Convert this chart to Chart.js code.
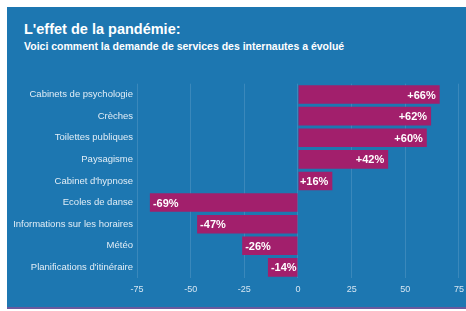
<!DOCTYPE html>
<html>
<head>
<meta charset="utf-8">
<script src="https://cdn.jsdelivr.net/npm/chart.js@4.4.0/dist/chart.umd.min.js"></script>
<style>
  html, body { margin: 0; padding: 0; background: #fff; overflow: hidden; }
  #panel {
    position: absolute; left: 7px; top: 7px; width: 459px; height: 300px;
    background: #1d77b1; border-bottom: 2px solid #6a5a9e;
    font-family: "Liberation Sans", Arial, sans-serif; color: #fff;
  }
  #title { position: absolute; left: 17px; top: 14px; font-size: 14.5px; font-weight: bold; }
  #subtitle { position: absolute; left: 17px; top: 33px; font-size: 10.5px; font-weight: bold; }
  #wrap { position: absolute; left: 0; top: 67px; width: 463px; height: 227px; }
</style>
</head>
<body>
<div id="panel">
  <div id="title">L'effet de la pandémie:</div>
  <div id="subtitle">Voici comment la demande de services des internautes a évolué</div>
  <div id="wrap"><canvas id="c"></canvas></div>
</div>
<script>
const categories = [
  'Cabinets de psychologie', 'Crèches', 'Toilettes publiques', 'Paysagisme',
  "Cabinet d'hypnose", 'Ecoles de danse', 'Informations sur les horaires',
  'Météo', "Planifications d'itinéraire"
];
const changes = [66, 62, 60, 42, 16, -69, -47, -26, -14];
const xTicks = [-75, -50, -25, 0, 25, 50, 75];

// draw "+66%" style labels inside the bar ends
const barLabels = {
  id: 'barLabels',
  afterDatasetsDraw(chart) {
    const ctx = chart.ctx;
    const meta = chart.getDatasetMeta(0);
    ctx.save();
    ctx.font = 'bold 11px "Liberation Sans", Arial, sans-serif';
    ctx.fillStyle = '#fff';
    ctx.textBaseline = 'middle';
    meta.data.forEach((bar, i) => {
      const v = changes[i];
      const txt = (v > 0 ? '+' : '') + v + '%';
      if (v >= 0) {
        ctx.textAlign = 'right';
        ctx.fillText(txt, bar.x - 4, bar.y + 1);
      } else {
        ctx.textAlign = 'left';
        ctx.fillText(txt, bar.x + 3, bar.y + 1);
      }
    });
    ctx.restore();
  }
};

new Chart(document.getElementById('c'), {
  type: 'bar',
  data: {
    labels: categories,
    datasets: [{
      data: changes,
      backgroundColor: '#a21f6c',
      borderWidth: 0,
      categoryPercentage: 1,
      barPercentage: 0.86,
    }],
  },
  options: {
    indexAxis: 'y',
    responsive: true,
    maintainAspectRatio: false,
    animation: false,
    layout: { padding: { top: 6, right: 0, left: 0, bottom: 0 } },
    plugins: { legend: { display: false }, tooltip: { enabled: false } },
    scales: {
      x: {
        min: -75, max: 75,
        afterBuildTicks: (s) => { s.ticks = xTicks.map(v => ({ value: v })); },
        grid: { color: 'rgba(255,255,255,0.13)', drawTicks: false },
        border: { display: false },
        ticks: { color: '#d6e6f2', font: { size: 9, family: '"Liberation Sans", Arial' }, padding: 6 },
      },
      y: {
        afterFit: (s) => { s.width = 130; },
        grid: { display: false, drawTicks: false },
        border: { display: false },
        ticks: { color: '#e1edf6', font: { size: 9.5, family: '"Liberation Sans", Arial' }, padding: 4 },
      },
    },
  },
  plugins: [barLabels],
});
</script>
</body>
</html>
